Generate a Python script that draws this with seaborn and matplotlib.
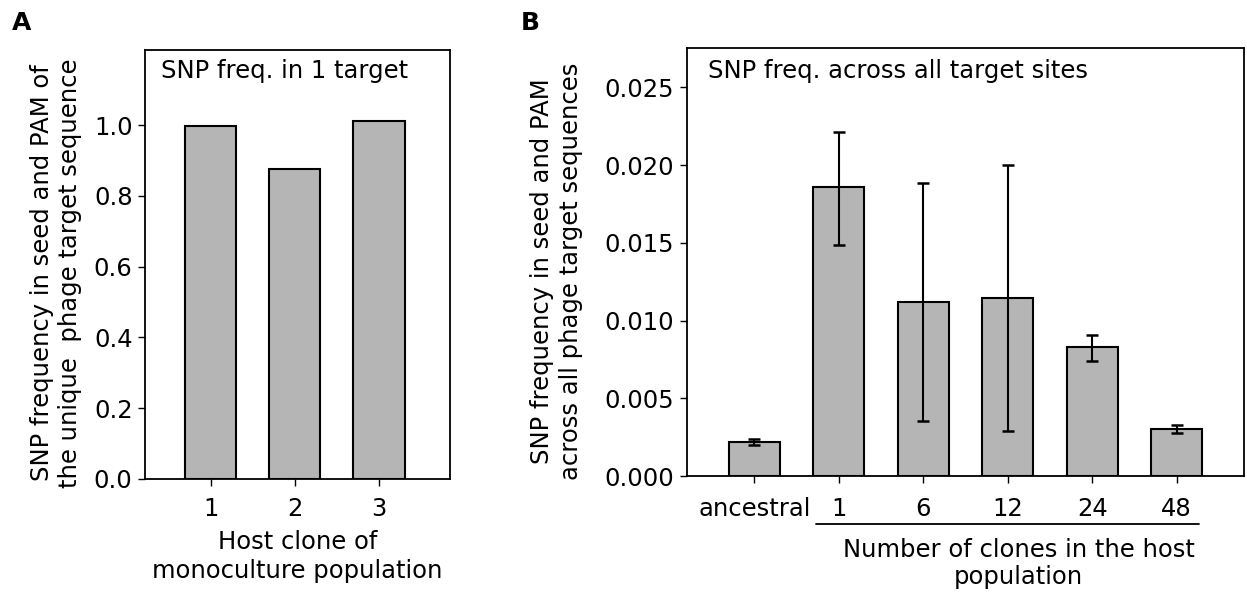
import numpy as np
import pandas as pd
import matplotlib
matplotlib.use("Agg")
import matplotlib.pyplot as plt
import matplotlib.transforms as mtransforms
import seaborn as sns

# panel A: SNP frequency in one target
host_clones = ["1", "2", "3"]
snp_one_target = [0.998, 0.875, 1.013]

# panel B: SNP frequency across all target sites
clone_numbers = ["ancestral", "1", "6", "12", "24", "48"]
snp_all_sites = [0.00221, 0.01857, 0.01122, 0.01143, 0.00830, 0.00304]
err_low = [0.00203, 0.01488, 0.00356, 0.00290, 0.00744, 0.00277]
err_high = [0.00238, 0.02214, 0.01887, 0.02003, 0.00911, 0.00332]

sns.set_style("ticks")
plt.rcParams["font.family"] = ["DejaVu Sans"]
plt.rcParams["axes.linewidth"] = 1.3
for k in ["text.color", "axes.labelcolor", "xtick.color", "ytick.color", "axes.edgecolor"]:
    plt.rcParams[k] = "black"

bar_color = "#b4b5b4"
fs = 17.5

fig = plt.figure(figsize=(12.47, 5.97), dpi=100)
W, H = 1247, 597

# ---- panel A ----
axA = fig.add_axes([145 / W, 1 - 478.7 / H, 305 / W, 428.7 / H])
dfA = pd.DataFrame({"clone": host_clones, "freq": snp_one_target})
sns.barplot(data=dfA, x="clone", y="freq", color=bar_color, saturation=1,
            width=0.61, edgecolor="black", linewidth=1.5, errorbar=None, ax=axA)
axA.set_xlim(-0.78, 2.845)
axA.set_ylim(0, 1.213)
axA.set_yticks([0, 0.2, 0.4, 0.6, 0.8, 1.0])
axA.set_yticklabels(["0.0", "0.2", "0.4", "0.6", "0.8", "1.0"])
axA.tick_params(axis="both", labelsize=fs, length=5, width=1, direction="out")
axA.tick_params(axis="x", pad=8)
axA.tick_params(axis="y", pad=4)
axA.set_xlabel("Host clone of\nmonoculture population", fontsize=fs, labelpad=7,
               linespacing=1.25)
axA.set_ylabel("SNP frequency in seed and PAM of\nthe unique  phage target sequence",
               fontsize=fs, va="bottom", linespacing=1.25)
axA.yaxis.set_label_coords(-0.205, 0.48)
axA.text(0.052, 0.934, "SNP freq. in 1 target", transform=axA.transAxes,
         fontsize=fs, va="baseline", ha="left")
for s in axA.spines.values():
    s.set_visible(True)

# ---- panel B ----
axB = fig.add_axes([686.7 / W, 1 - 476.3 / H, 557.6 / W, 428 / H])
dfB = pd.DataFrame({"clones": clone_numbers, "freq": snp_all_sites})
sns.barplot(data=dfB, x="clones", y="freq", color=bar_color, saturation=1,
            width=0.6, edgecolor="black", linewidth=1.5, errorbar=None, ax=axB)
means = np.array(snp_all_sites)
yerr = [means - np.array(err_low), np.array(err_high) - means]
axB.errorbar(np.arange(len(clone_numbers)), means, yerr=yerr, fmt="none",
             ecolor="black", elinewidth=1.5, capsize=4, capthick=1.8)
axB.set_xlim(-0.8, 5.8)
axB.set_ylim(0, 0.0275)
axB.set_yticks([0, 0.005, 0.010, 0.015, 0.020, 0.025])
axB.set_yticklabels(["0.000", "0.005", "0.010", "0.015", "0.020", "0.025"])
axB.tick_params(axis="both", labelsize=fs, length=5, width=1, direction="out")
axB.tick_params(axis="x", pad=10)
axB.tick_params(axis="y", pad=4)
axB.set_xlabel("")
axB.set_ylabel("SNP frequency in seed and PAM\nacross all phage target sequences",
               fontsize=fs, va="bottom", linespacing=1.25)
axB.yaxis.set_label_coords(-0.186, 0.48)
axB.text(0.039, 0.930, "SNP freq. across all target sites", transform=axB.transAxes,
         fontsize=fs, va="baseline", ha="left")
for s in axB.spines.values():
    s.set_visible(True)

# bracket line under the clone numbers and the shared label
trans = mtransforms.blended_transform_factory(axB.transData, axB.transAxes)
axB.plot([0.73, 5.26], [-0.111, -0.111], color="black", lw=1.3,
         transform=trans, clip_on=False)
axB.text(3.13, -0.143, "Number of clones in the host\npopulation", transform=trans,
         fontsize=fs, ha="center", va="top", linespacing=1.2)

fig.text(12 / W, 1 - 30 / H, "A", fontsize=18, fontweight="bold", va="baseline")
fig.text(521 / W, 1 - 30 / H, "B", fontsize=18, fontweight="bold", va="baseline")

fig.savefig("out.png", dpi=100)
